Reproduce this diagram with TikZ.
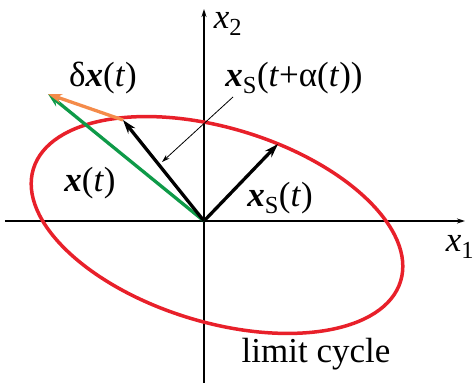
\documentclass[tikz,border=0pt]{standalone}
\usepackage{fontspec}
\setmainfont{Liberation Serif}
\usepackage{tikz}
\usetikzlibrary{arrows.meta}
\definecolor{cyclered}{HTML}{E8202A}
\definecolor{green}{HTML}{0E9A48}
\definecolor{orange}{HTML}{F48B4A}
\newcommand{\bx}{\textbf{\textit{x}}}

\begin{document}
\begin{tikzpicture}[x=1pt,y=1pt,
  every node/.style={font=\fontsize{35}{42}\selectfont,inner sep=0pt},
  axis/.style={-{Stealth[length=8pt,width=5pt]},line width=1.5pt},
  vec/.style={-{Stealth[length=14pt,width=9pt]},line width=3.3pt},
  pointer/.style={-{Stealth[length=8pt,width=5pt]},line width=0.8pt}
]
\useasboundingbox (-204,-169) rectangle (270,221);
% axes
\coordinate (O) at (0,0);
\coordinate (x1end) at (-199,0);
\coordinate (x1tip) at (261,0);
\coordinate (x2end) at (0,-162);
\coordinate (x2tip) at (0,212);
\draw[axis] (x1end) -- (x1tip);
\draw[axis] (x2end) -- (x2tip);
\node (x1) at (256,-26) {\textit{x}\textsubscript{1}};
\node (x2) at (24,197) {\textit{x}\textsubscript{2}};

% limit cycle
\draw[cyclered,line width=3.5pt,rotate around={-17:(13,-4)}]
  (13,-4) ellipse [x radius=192,y radius=97];
\node (lc) at (112,-133) {limit cycle};

% vectors
\coordinate (xs) at (74,77);
\coordinate (xsa) at (-81,101);
\coordinate (xt) at (-156,127);
\draw[vec,black] (O) -- (xs);
\draw[vec,green] (O) -- (xt);
\draw[vec,black] (O) -- (xsa);
\draw[vec,orange] (xsa) -- (xt);

\node (lxs) at (76,23) {\bx\textsubscript{S}(\textit{t})};
\node (lxt) at (-114,38) {\bx(\textit{t})};
\node (ldx) at (-101,143) {δ\bx(\textit{t})};
\node (lxsa) at (90,143) {\bx\textsubscript{S}(\textit{t}+α(\textit{t}))};

\coordinate (pstart) at (29,124);
\coordinate (pend) at (-42,59);
\draw[pointer] (pstart) -- (pend);
\end{tikzpicture}
\end{document}
